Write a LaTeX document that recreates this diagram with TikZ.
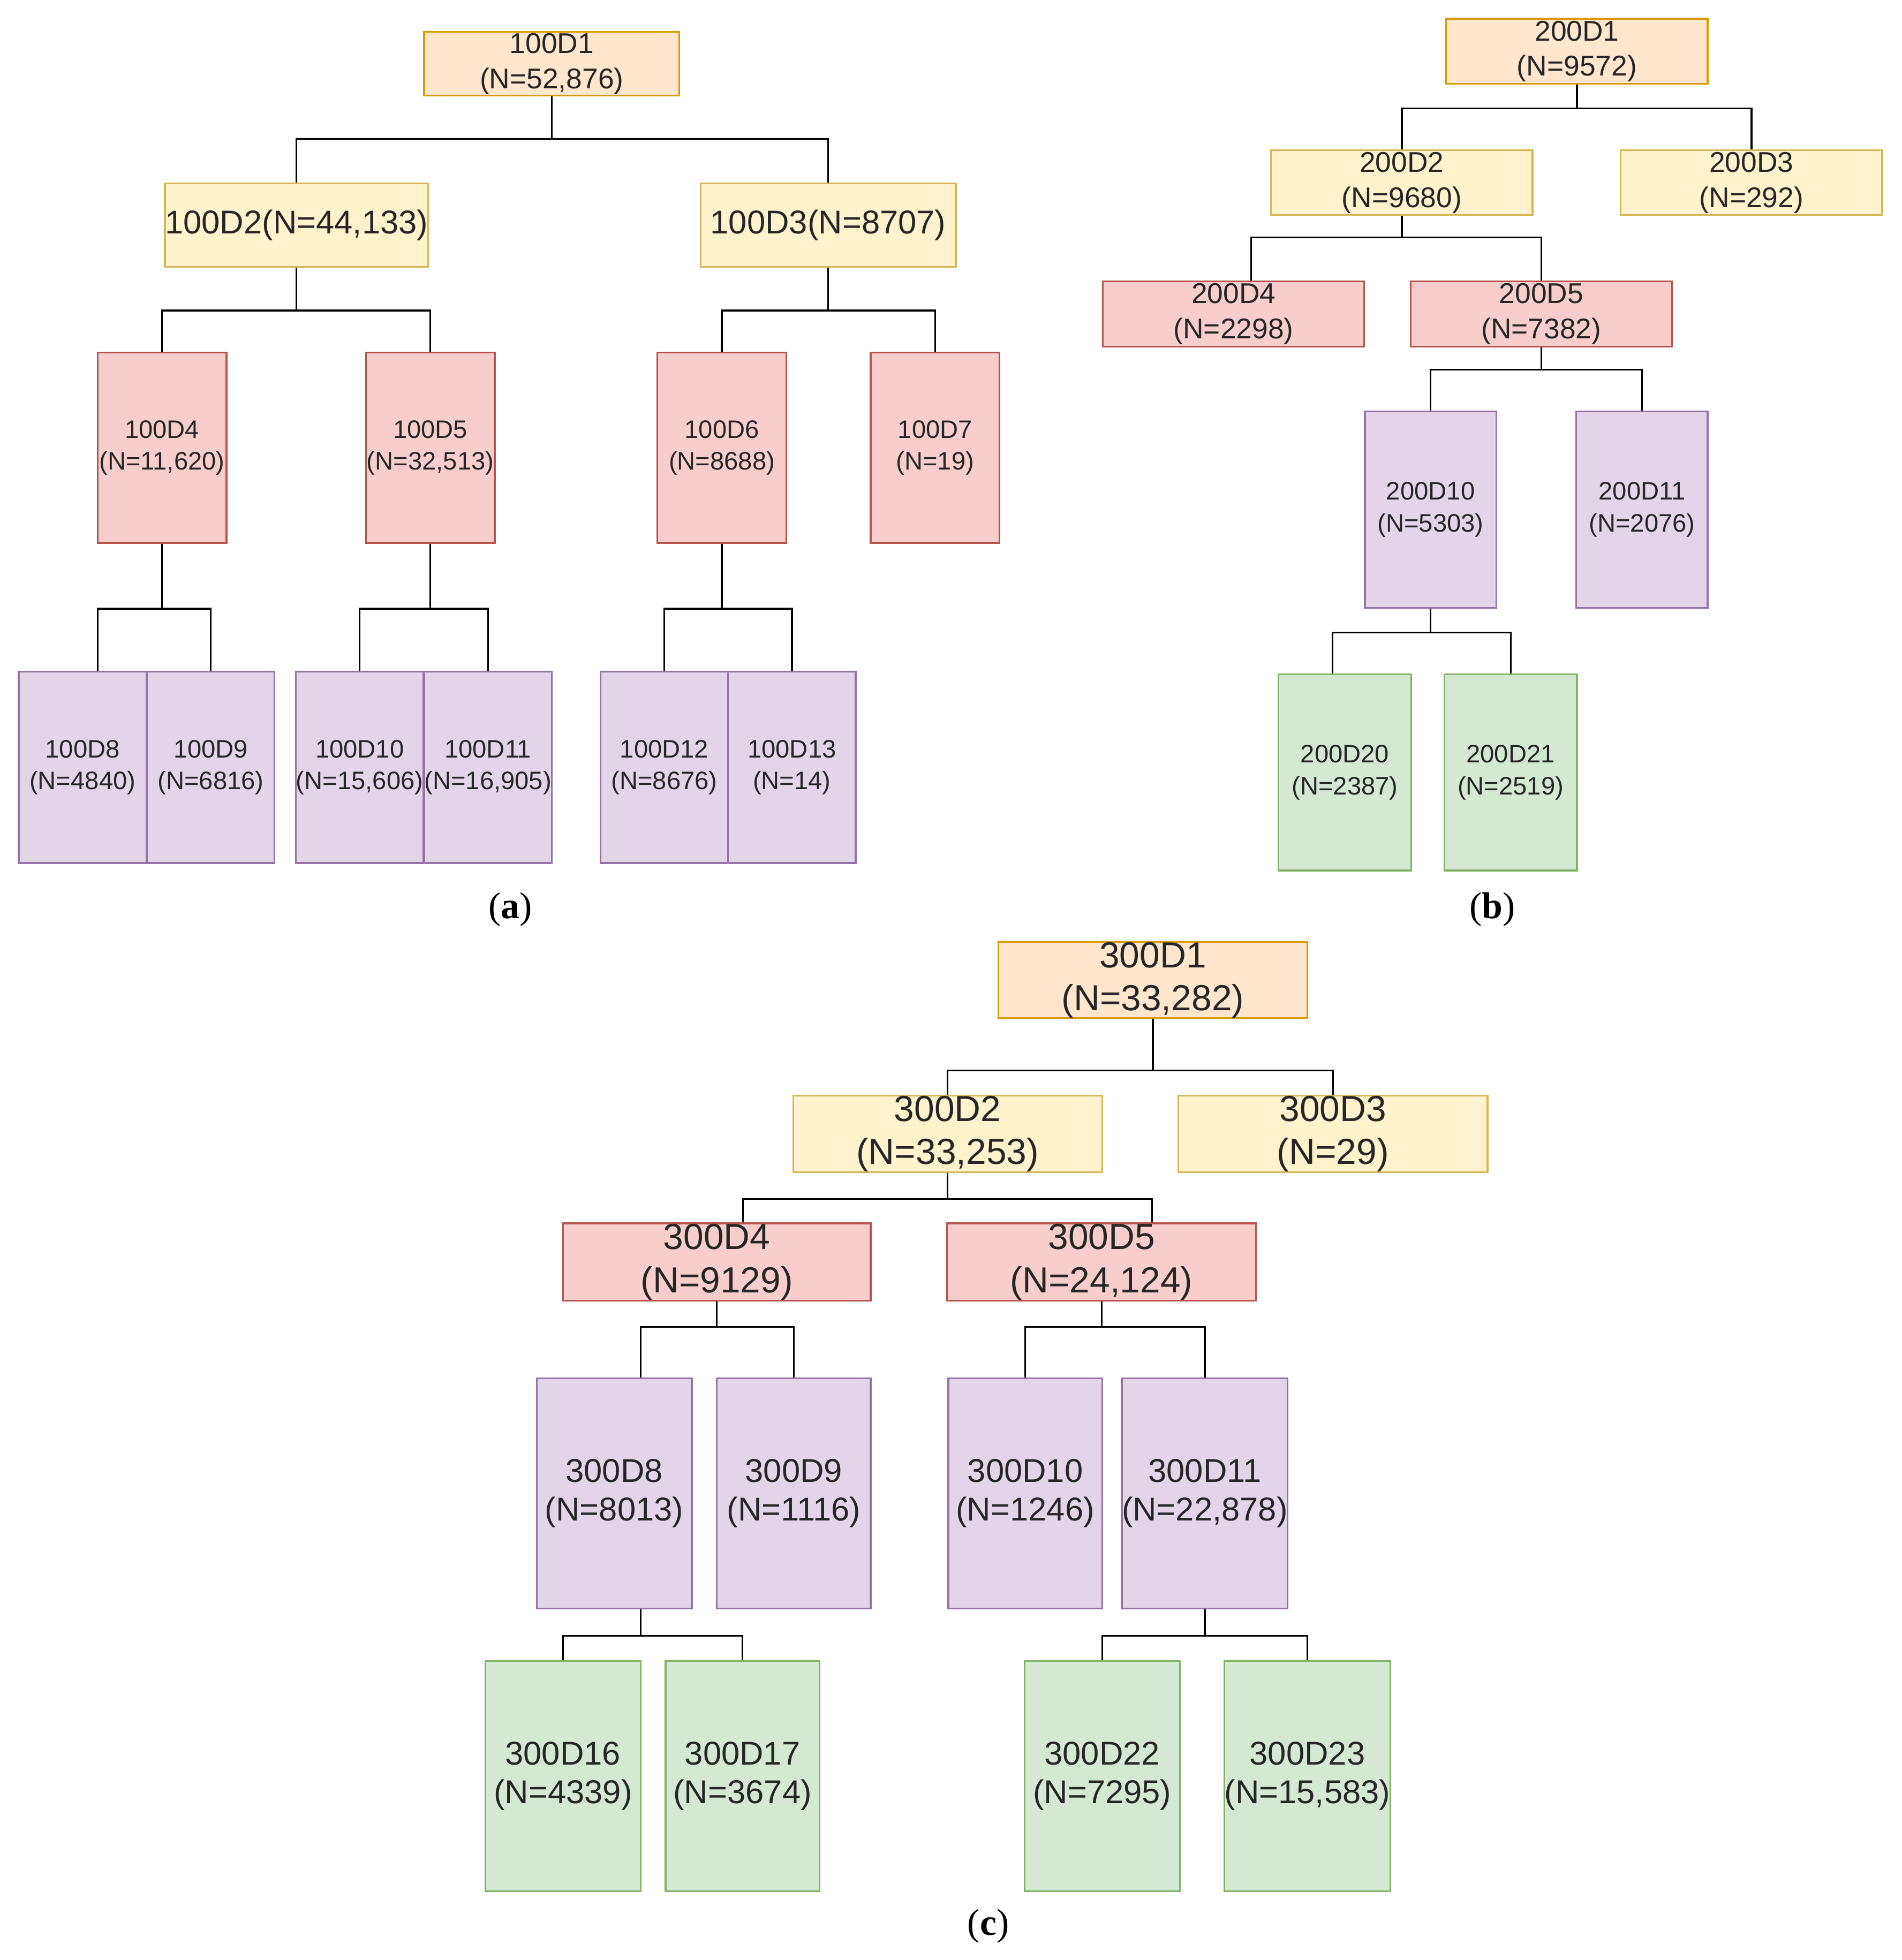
\documentclass[tikz,border=0pt]{standalone}
\usepackage{fontspec}
\setmainfont{Liberation Sans}
\newfontfamily\capfont{Liberation Serif}
\begin{document}
\definecolor{oF}{HTML}{FFE6CC}\definecolor{oD}{HTML}{D79B00}
\definecolor{yF}{HTML}{FFF2CC}\definecolor{yD}{HTML}{D6B656}
\definecolor{rF}{HTML}{F8CECC}\definecolor{rD}{HTML}{B85450}
\definecolor{pF}{HTML}{E1D5E7}\definecolor{pD}{HTML}{9673A6}
\definecolor{gF}{HTML}{D5E8D4}\definecolor{gD}{HTML}{82B366}
\begin{tikzpicture}[x=0.02cm,y=-0.02cm,
 box/.style={draw,line width=0.8pt,align=center,inner sep=0pt,text=black!85},
 ora/.style={box,fill=oF,draw=oD},
 yel/.style={box,fill=yF,draw=yD},
 red/.style={box,fill=rF,draw=rD},
 pur/.style={box,fill=pF,draw=pD},
 grn/.style={box,fill=gF,draw=gD},
 wh/.style={minimum width=#1*0.02cm},
 ht/.style={minimum height=#1*0.02cm},
 fa/.style={font=\fontsize{11.5}{14.5}\selectfont},
 fb/.style={font=\fontsize{13}{16}\selectfont},
 fc/.style={font=\fontsize{16.5}{19.5}\selectfont},
 fl/.style={font=\fontsize{15}{17.5}\selectfont},
 captxt/.style={font=\capfont\fontsize{17}{20}\selectfont},
 con/.style={draw,line width=0.8pt}]
\useasboundingbox (0,0) rectangle (1520,1567);
% (a)
\node[ora,wh=204,ht=51,fb] (a1) at (441,51) {100D1\\(N=52,876)};
\node[yel,wh=204,ht=67,font=\fontsize{15}{18}\selectfont] (a2) at (237,180) {100D2(N=44,133)};
\node[yel,wh=204,ht=67,font=\fontsize{15}{18}\selectfont] (a3) at (662,180) {100D3(N=8707)};
\node[red,wh=103,ht=152,fa] (a4) at (129.5,358) {100D4\\(N=11,620)};
\node[red,wh=103,ht=152,fa] (a5) at (344,358) {100D5\\(N=32,513)};
\node[red,wh=103,ht=152,fa] (a6) at (577,358) {100D6\\(N=8688)};
\node[red,wh=103,ht=152,fa] (a7) at (747.5,358) {100D7\\(N=19)};
\node[pur,wh=102,ht=153,fa] (a8) at (66,613.5) {100D8\\(N=4840)};
\node[pur,wh=102,ht=153,fa] (a9) at (168.5,613.5) {100D9\\(N=6816)};
\node[pur,wh=102,ht=153,fa] (a10) at (287.5,613.5) {100D10\\(N=15,606)};
\node[pur,wh=102,ht=153,fa] (a11) at (390,613.5) {100D11\\(N=16,905)};
\node[pur,wh=102,ht=153,fa] (a12) at (531,613.5) {100D12\\(N=8676)};
\node[pur,wh=102,ht=153,fa] (a13) at (633,613.5) {100D13\\(N=14)};
\draw[con] (a1.south) -- ++(0,34) -| (a2.north);
\draw[con] (a1.south) -- ++(0,34) -| (a3.north);
\draw[con] (a2.south) -- ++(0,34) -| (a4.north);
\draw[con] (a2.south) -- ++(0,34) -| (a5.north);
\draw[con] (a3.south) -- ++(0,34) -| (a6.north);
\draw[con] (a3.south) -- ++(0,34) -| (a7.north);
\draw[con] (a4.south) -- ++(0,52) -| ([xshift=0.24cm]a8.north);
\draw[con] (a4.south) -- ++(0,52) -| (a9.north);
\draw[con] (a5.south) -- ++(0,52) -| (a10.north);
\draw[con] (a5.south) -- ++(0,52) -| (a11.north);
\draw[con] (a6.south) -- ++(0,52) -| (a12.north);
\draw[con] (a6.south) -- ++(0,52) -| (a13.north);
\node[captxt] (ca) at (408,727) {(\textbf{a})};
% (b)
\node[ora,wh=209,ht=52,fb] (b1) at (1260.5,41) {200D1\\(N=9572)};
\node[yel,wh=209,ht=52,fb] (b2) at (1120.5,146) {200D2\\(N=9680)};
\node[yel,wh=209,ht=52,fb] (b3) at (1400,146) {200D3\\(N=292)};
\node[red,wh=209,ht=52,fb] (b4) at (986,251) {200D4\\(N=2298)};
\node[red,wh=209,ht=52,fb] (b5) at (1232,251) {200D5\\(N=7382)};
\node[pur,wh=105,ht=157,fa] (b10) at (1143.5,407.5) {200D10\\(N=5303)};
\node[pur,wh=105,ht=157,fa] (b11) at (1312.5,407.5) {200D11\\(N=2076)};
\node[grn,wh=106,ht=157,fa] (b20) at (1075,617.5) {200D20\\(N=2387)};
\node[grn,wh=106,ht=157,fa] (b21) at (1207.5,617.5) {200D21\\(N=2519)};
\draw[con] (b1.south) -- ++(0,19) -| (b2.north);
\draw[con] (b1.south) -- ++(0,19) -| (b3.north);
\draw[con] (b2.south) -- ++(0,17) -| ([xshift=0.28cm]b4.north);
\draw[con] (b2.south) -- ++(0,17) -| (b5.north);
\draw[con] (b5.south) -- ++(0,18) -| (b10.north);
\draw[con] (b5.south) -- ++(0,18) -| (b11.north);
\draw[con] (b10.south) -- ++(0,19) -| ([xshift=-0.2cm]b20.north);
\draw[con] (b10.south) -- ++(0,19) -| (b21.north);
\node[captxt] (cb) at (1193,727) {(\textbf{b})};
% (c)
\node[ora,wh=247,ht=61,fc] (c1) at (921.5,783.5) {300D1\\(N=33,282)};
\node[yel,wh=247,ht=61,fc] (c2) at (757.5,906.5) {300D2\\(N=33,253)};
\node[yel,wh=247,ht=61,fc] (c3) at (1065.5,906.5) {300D3\\(N=29)};
\node[red,wh=246,ht=62,fc] (c4) at (573,1009) {300D4\\(N=9129)};
\node[red,wh=247,ht=62,fc] (c5) at (880.5,1009) {300D5\\(N=24,124)};
\node[pur,wh=124,ht=184,fl] (c8) at (491,1194) {300D8\\(N=8013)};
\node[pur,wh=123,ht=184,fl] (c9) at (634.5,1194) {300D9\\(N=1116)};
\node[pur,wh=123,ht=184,fl] (c10) at (819.5,1194) {300D10\\(N=1246)};
\node[pur,wh=124,ht=184,fl] (c11) at (963,1194) {300D11\\(N=22,878)};
\node[grn,wh=124,ht=184,fl] (c16) at (450,1420) {300D16\\(N=4339)};
\node[grn,wh=123,ht=184,fl] (c17) at (593.5,1420) {300D17\\(N=3674)};
\node[grn,wh=124,ht=184,fl] (c22) at (881,1420) {300D22\\(N=7295)};
\node[grn,wh=124,ht=184,fl] (c23) at (1045,1420) {300D23\\(N=15,583)};
\draw[con] (c1.south) -- ++(0,41) -| (c2.north);
\draw[con] (c1.south) -- ++(0,41) -| (c3.north);
\draw[con] (c2.south) -- ++(0,21) -| ([xshift=0.42cm]c4.north);
\draw[con] (c2.south) -- ++(0,21) -| ([xshift=0.81cm]c5.north);
\draw[con] (c4.south) -- ++(0,20) -| ([xshift=0.42cm]c8.north);
\draw[con] (c4.south) -- ++(0,20) -| (c9.north);
\draw[con] (c5.south) -- ++(0,20) -| (c10.north);
\draw[con] (c5.south) -- ++(0,20) -| (c11.north);
\draw[con] ([xshift=0.42cm]c8.south) -- ++(0,21) -| (c16.north);
\draw[con] ([xshift=0.42cm]c8.south) -- ++(0,21) -| (c17.north);
\draw[con] (c11.south) -- ++(0,21) -| (c22.north);
\draw[con] (c11.south) -- ++(0,21) -| (c23.north);
\node[captxt] (cc) at (790,1540) {(\textbf{c})};
\end{tikzpicture}
\end{document}
